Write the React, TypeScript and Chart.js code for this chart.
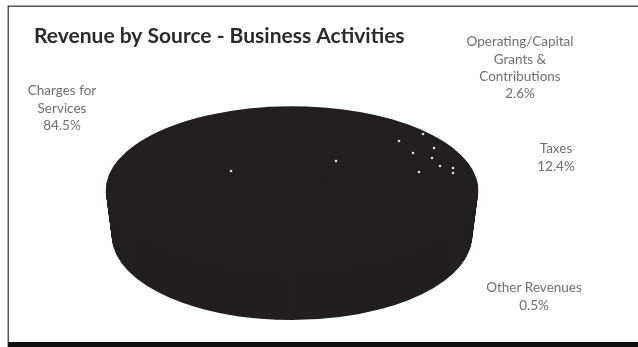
import { useEffect, useRef } from "react";
import { Chart, registerables } from "chart.js";

Chart.register(...registerables);

const sources = ["Charges for Services", "Taxes", "Operating/Capital Grants & Contributions", "Other Revenues"];
const shares = [84.5, 12.4, 2.6, 0.5];
const labelLines = [["Charges for", "Services"], ["Taxes"], ["Operating/Capital", "Grants &", "Contributions"], ["Other Revenues"]];
const labelAnchors = [[62, 91], [556, 149], [520, 42], [534, 288]];
const specks = [[231, 171], [336, 161], [399, 141], [413, 153], [419, 172], [423, 134], [434, 148], [432, 158], [440, 166], [453, 168], [453, 173]];

const INK = "#231f20";
const LABEL_GREY = "#6f6f6f";
const ELLIPSE_RX = 184;
const BASE_RX = 178;
const DEPTH = 46;
const LINE_HEIGHT = 17.3;

// Squashes the pie into a wide ellipse; copies of its arcs below, narrowing with
// depth, form the 3D side wall.
const tiltedPie = {
  id: "tiltedPie",
  beforeDatasetDraw(chart: any, args: any) {
    const ctx = chart.ctx;
    const arcs = args.meta.data;
    const { x, y, outerRadius } = arcs[0];
    for (let dy = DEPTH; dy >= 1; dy--) {
      const rx = ELLIPSE_RX + ((BASE_RX - ELLIPSE_RX) * dy) / DEPTH;
      ctx.save();
      ctx.translate(x, y + dy);
      ctx.scale(rx / outerRadius, 1);
      ctx.translate(-x, -y);
      arcs.forEach((arc: any) => arc.draw(ctx));
      ctx.restore();
    }
    ctx.save();
    ctx.translate(x, y);
    ctx.scale(ELLIPSE_RX / outerRadius, 1);
    ctx.translate(-x, -y);
  },
  afterDatasetDraw(chart: any) {
    const ctx = chart.ctx;
    ctx.restore();
    ctx.save();
    ctx.fillStyle = "#dcdcdc";
    specks.forEach(([sx, sy]) => {
      ctx.beginPath();
      ctx.arc(sx, sy, 1.3, 0, Math.PI * 2);
      ctx.fill();
    });
    ctx.restore();
  },
};

// White page background and the uneven frame on three sides.
const frame = {
  id: "frame",
  beforeDraw(chart: any) {
    const { ctx, width, height } = chart;
    ctx.save();
    ctx.fillStyle = "#ffffff";
    ctx.fillRect(0, 0, width, height);
    ctx.fillStyle = "#555555";
    ctx.fillRect(8, 5.5, width - 8, 1.5);
    ctx.fillRect(7.5, 5.5, 1.5, height - 5.5);
    ctx.fillStyle = "#111111";
    ctx.fillRect(8, height - 5, width - 8, 5);
    ctx.restore();
  },
};

// Category name and share beside each slice.
const sliceLabels = {
  id: "sliceLabels",
  afterDraw(chart: any) {
    const ctx = chart.ctx;
    ctx.save();
    ctx.font = "13.5px Lato";
    ctx.fillStyle = LABEL_GREY;
    ctx.textAlign = "center";
    ctx.textBaseline = "middle";
    shares.forEach((share, i) => {
      const lines = [...labelLines[i], `${share.toFixed(1)}%`];
      const [ax, ay] = labelAnchors[i];
      lines.forEach((line, n) => ctx.fillText(line, ax, ay + n * LINE_HEIGHT));
    });
    ctx.restore();
  },
};

export default function App() {
  const ref = useRef<HTMLCanvasElement>(null);
  useEffect(() => {
    const chart = new Chart(ref.current!, {
      type: "pie",
      data: {
        labels: sources,
        datasets: [
          {
            data: shares,
            backgroundColor: INK,
            borderColor: INK,
            borderWidth: 2,
            clip: false,
          } as any,
        ],
      },
      options: {
        responsive: false,
        animation: false,
        rotation: 60,
        layout: { padding: { left: 34, right: 88, top: 0, bottom: 73 } },
        plugins: {
          legend: { display: false },
          tooltip: { enabled: false },
          title: {
            display: true,
            text: "Revenue by Source - Business Activities",
            align: "start",
            color: "#2b2b2b",
            font: { family: "Lato", size: 21, weight: "bold" },
            padding: { top: 24, bottom: 57 },
          },
        },
      },
      plugins: [frame, tiltedPie, sliceLabels],
    });
    return () => chart.destroy();
  }, []);
  return (
    <canvas
      ref={ref}
      width={638}
      height={347}
      style={{ position: "absolute", left: 0, top: 0, display: "block" }}
    />
  );
}
